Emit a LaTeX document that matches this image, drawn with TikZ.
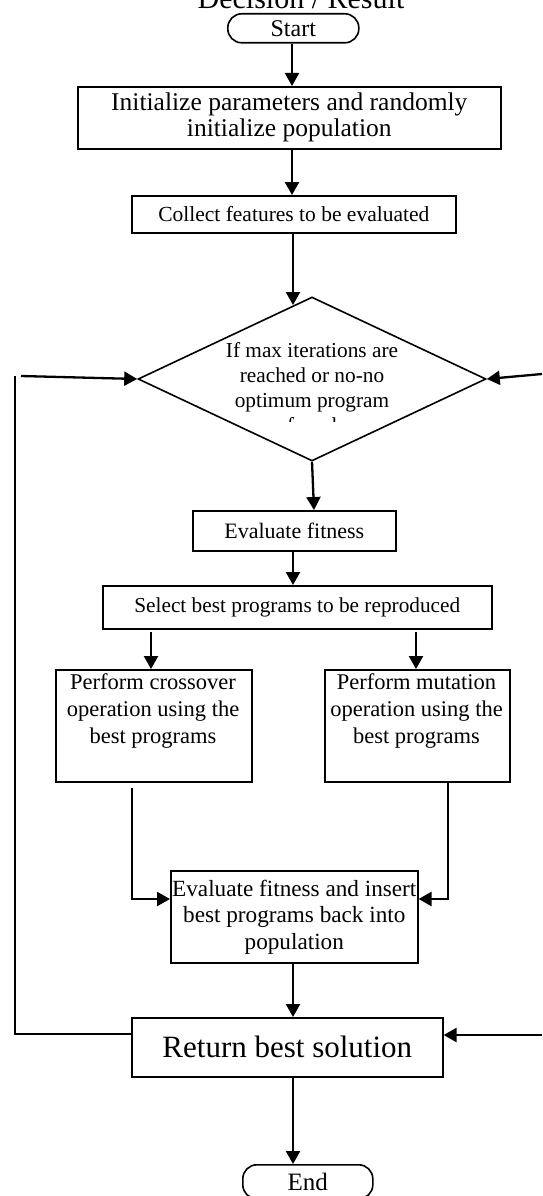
\documentclass[tikz,border=0pt]{standalone}
\usepackage{fontspec}
\setmainfont{Liberation Serif}
\usetikzlibrary{arrows.meta,shapes.geometric}
\begin{document}
\begin{tikzpicture}[x=1pt,y=-1pt,
  box/.style={draw,line width=1.6pt,inner sep=0pt,align=center,anchor=north west},
  term/.style={draw,line width=1.6pt,rounded corners=14pt,inner sep=0pt,align=center,anchor=north west},
  arr/.style={line width=2.3pt,-{Triangle[length=13pt,width=14pt]}},
  ln/.style={line width=2.3pt}]
\useasboundingbox (0,0) rectangle (542,1196);
\node[anchor=base,font=\fontsize{30}{32}\selectfont] (title) at (301,9) {Decision / Result};
\node[term,minimum width=131pt,minimum height=29pt,font=\fontsize{24}{26}\selectfont] (start) at (227,13) {Start};
\node[box,minimum width=423pt,minimum height=62pt,font=\fontsize{25.5}{26}\selectfont] (init) at (77,86) {Initialize parameters and randomly\\initialize population};
\node[box,minimum width=324pt,minimum height=37pt,font=\fontsize{21.5}{24}\selectfont] (collect) at (131,195) {Collect features to be evaluated};
\node[draw,diamond,line width=1.6pt,minimum width=348pt,minimum height=164pt,inner sep=0pt] (dec) at (312,379) {};
\begin{scope}
\clip (160,330) rectangle (460,421);
\node[align=center,font=\fontsize{21.3}{25}\selectfont,anchor=north] (dectext) at (312,339) {If max iterations are\\reached or no-no\\optimum program\\found};
\end{scope}
\node[box,minimum width=203pt,minimum height=40pt,font=\fontsize{22}{24}\selectfont] (evalfit) at (192,510) {Evaluate fitness};
\node[box,minimum width=389pt,minimum height=43pt,font=\fontsize{21.3}{24}\selectfont] (select) at (102,585) {Select best programs to be reproduced};
\node[box,minimum width=196pt,minimum height=112pt] (cross) at (55,669) {};
\node[align=center,anchor=north,font=\fontsize{22.5}{27}\selectfont] (crosstext) at (153,670) {Perform crossover\\operation using the\\best programs};
\node[box,minimum width=185pt,minimum height=112pt] (mut) at (324,669) {};
\node[align=center,anchor=north,font=\fontsize{22.5}{27}\selectfont] (muttext) at (416.5,670) {Perform mutation\\operation using the\\best programs};
\node[box,minimum width=247pt,minimum height=92pt,font=\fontsize{23.2}{26.5}\selectfont] (insert) at (170,870) {Evaluate fitness and insert\\best programs back into\\population};
\node[box,minimum width=311pt,minimum height=59pt,font=\fontsize{31}{34}\selectfont] (ret) at (131,1017) {Return best solution};
\node[term,minimum width=130pt,minimum height=34pt,font=\fontsize{25}{27}\selectfont] (end) at (242,1164) {End};
\coordinate (lt) at (21,376);
\coordinate (lb) at (15,1034);
\coordinate (rt) at (542,374);
\coordinate (rb) at (542,1035);
\coordinate (cl) at (132,788);
\coordinate (cr) at (448,781);
\draw[arr] (start.south -| 292,0) -- (init.north -| 292,0);
\draw[arr] (init.south -| 292,0) -- (collect.north -| 292,0);
\draw[arr] (collect.south -| 293,0) -- (293,305);
\draw[arr] (dec.south) -- (evalfit.north -| 314,0);
\draw[arr] (evalfit.south -| 293,0) -- (select.north -| 293,0);
\draw[arr] (151,632) -- (cross.north -| 151,0);
\draw[arr] (416,632) -- (mut.north -| 416,0);
\draw[arr] (cl) -- (132,899) -- (insert.west |- 0,899);
\draw[arr] (cr) -- (448,899) -- (insert.east |- 0,899);
\draw[arr] (insert.south -| 293,0) -- (ret.north -| 293,0);
\draw[arr] (ret.south -| 293,0) -- (end.north -| 293,0);
\draw[arr] (rt) -- (dec.east);
\draw[arr] (rb) -- (ret.east |- rb);
\draw[ln] (lb -| ret.west) -- (15,1034) -- (15,376);
\draw[arr] (lt) -- (dec.west);
\end{tikzpicture}
\end{document}
